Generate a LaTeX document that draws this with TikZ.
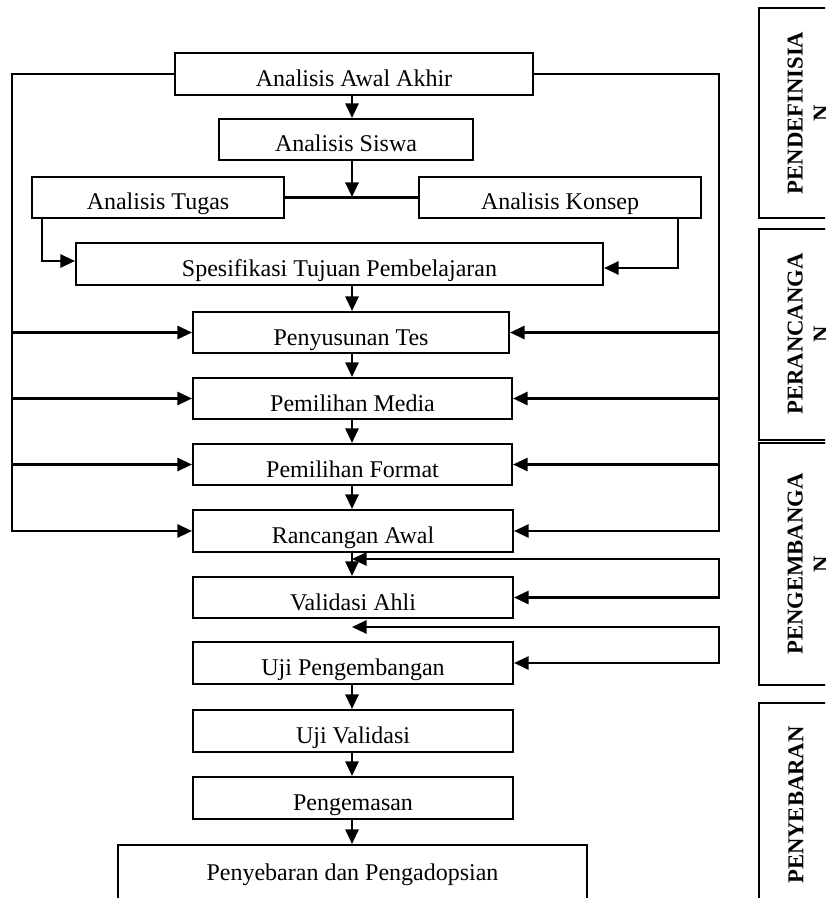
\documentclass[tikz,border=0pt]{standalone}
\usepackage{fontspec}
\setmainfont{Liberation Serif}
\usetikzlibrary{arrows.meta,calc}
\newcommand\flowbox[7][]{\node[box, minimum width={(#5-#3)*0.75pt}, minimum height={(#6-#4)*0.75pt}, #1] (#2) at ({(#3+#5)/2},{(#4+#6)/2}) {#7};}
\begin{document}
\begin{tikzpicture}[x=0.75pt,y=-0.75pt,
  line width=1.6pt,
  box/.style={draw, rectangle, inner sep=0pt, text height=18.75pt, text depth=0pt, font=\fontsize{18}{20}\selectfont},
  arr/.style={-{Triangle[length=11pt,width=10pt]}},
  dbl/.style={{Triangle[length=11pt,width=10pt]}-{Triangle[length=11pt,width=10pt]}},
  phase/.style={rotate=90, align=center, font=\fontsize{17}{19.5}\selectfont\bfseries, inner sep=0pt}]
\useasboundingbox (0,0) rectangle (825,898);
\clip (0,0) rectangle (825,898);
% main boxes
\flowbox{aa}{175}{53}{533}{95}{Analisis Awal Akhir}
\flowbox{as}{219}{119}{473}{160}{Analisis Siswa}
\flowbox{at}{32}{177}{284}{218}{Analisis Tugas}
\flowbox{ak}{419}{177}{701}{218}{Analisis Konsep}
\flowbox{sp}{76}{243}{603}{285}{Spesifikasi Tujuan Pembelajaran}
\flowbox{pt}{193}{312}{509}{353}{Penyusunan Tes}
\flowbox{pm}{193}{378}{512}{419}{Pemilihan Media}
\flowbox{pf}{193}{444}{512}{485}{Pemilihan Format}
\flowbox{ra}{193}{510}{513}{552}{Rancangan Awal}
\flowbox{va}{193}{577}{513}{618}{Validasi Ahli}
\flowbox{up}{193}{642}{513}{684}{Uji Pengembangan}
\flowbox{uv}{193}{710}{513}{752}{Uji Validasi}
\flowbox{pg}{193}{777}{513}{819}{Pengemasan}
\flowbox[text height=0pt]{pd}{118}{845}{587}{915}{Penyebaran dan Pengadopsian}
% phase boxes
\flowbox[text height=0pt]{ph1}{759}{8}{870}{218}{}
\flowbox[text height=0pt]{ph2}{759}{229}{870}{440}{}
\flowbox[text height=0pt]{ph3}{759}{443}{870}{685}{}
\flowbox[text height=0pt]{ph4}{759}{703}{870}{940}{}
\node[phase] (l1) at (808,113) {PENDEFINISIA\\N};
\node[phase] (l2) at (808,334) {PERANCANGA\\N};
\node[phase] (l3) at (808,564) {PENGEMBANGA\\N};
\node[phase] (l4) at (796,805) {PENYEBARAN};
% helper coordinates
\coordinate (cx) at (352,0);
\coordinate (j) at (352,197);
\coordinate (tx) at (42,0);
\coordinate (kx) at (678,0);
\coordinate (ty) at (0,261);
\coordinate (ky) at (0,268);
\coordinate (L) at (12,0);
\coordinate (R) at (719,0);
\coordinate (f1) at (352,559);
\coordinate (r1) at (719,559);
\coordinate (f2) at (352,627);
\coordinate (r2) at (719,627);
% vertical flow
\draw[arr] (aa.south -| cx) -- (as.north -| cx);
\draw[arr] (as.south -| cx) -- (j);
\draw (at.east) -- (ak.west);
\draw[arr] (at.south -| tx) |- (sp.west |- ty);
\draw[arr] (ak.south -| kx) |- (sp.east |- ky);
\draw[arr] (sp.south -| cx) -- (pt.north -| cx);
\draw[arr] (pt.south -| cx) -- (pm.north -| cx);
\draw[arr] (pm.south -| cx) -- (pf.north -| cx);
\draw[arr] (pf.south -| cx) -- (ra.north -| cx);
\draw[arr] (ra.south -| cx) -- (va.north -| cx);
\draw[arr] (up.south -| cx) -- (uv.north -| cx);
\draw[arr] (uv.south -| cx) -- (pg.north -| cx);
\draw[arr] (pg.south -| cx) -- (pd.north -| cx);
% outer loops
\draw[arr] (aa.west) -| (L |- ra.west) -- (ra.west);
\draw[arr] (L |- pt.west) -- (pt.west);
\draw[arr] (L |- pm.west) -- (pm.west);
\draw[arr] (L |- pf.west) -- (pf.west);
\draw[arr] (aa.east) -| (R |- ra.east) -- (ra.east);
\draw[arr] (R |- pt.east) -- (pt.east);
\draw[arr] (R |- pm.east) -- (pm.east);
\draw[arr] (R |- pf.east) -- (pf.east);
% feedback loops
\draw[dbl] (f1) -- (r1) |- (va.east);
\draw[dbl] (f2) -- (r2) |- (up.east);
\end{tikzpicture}
\end{document}
